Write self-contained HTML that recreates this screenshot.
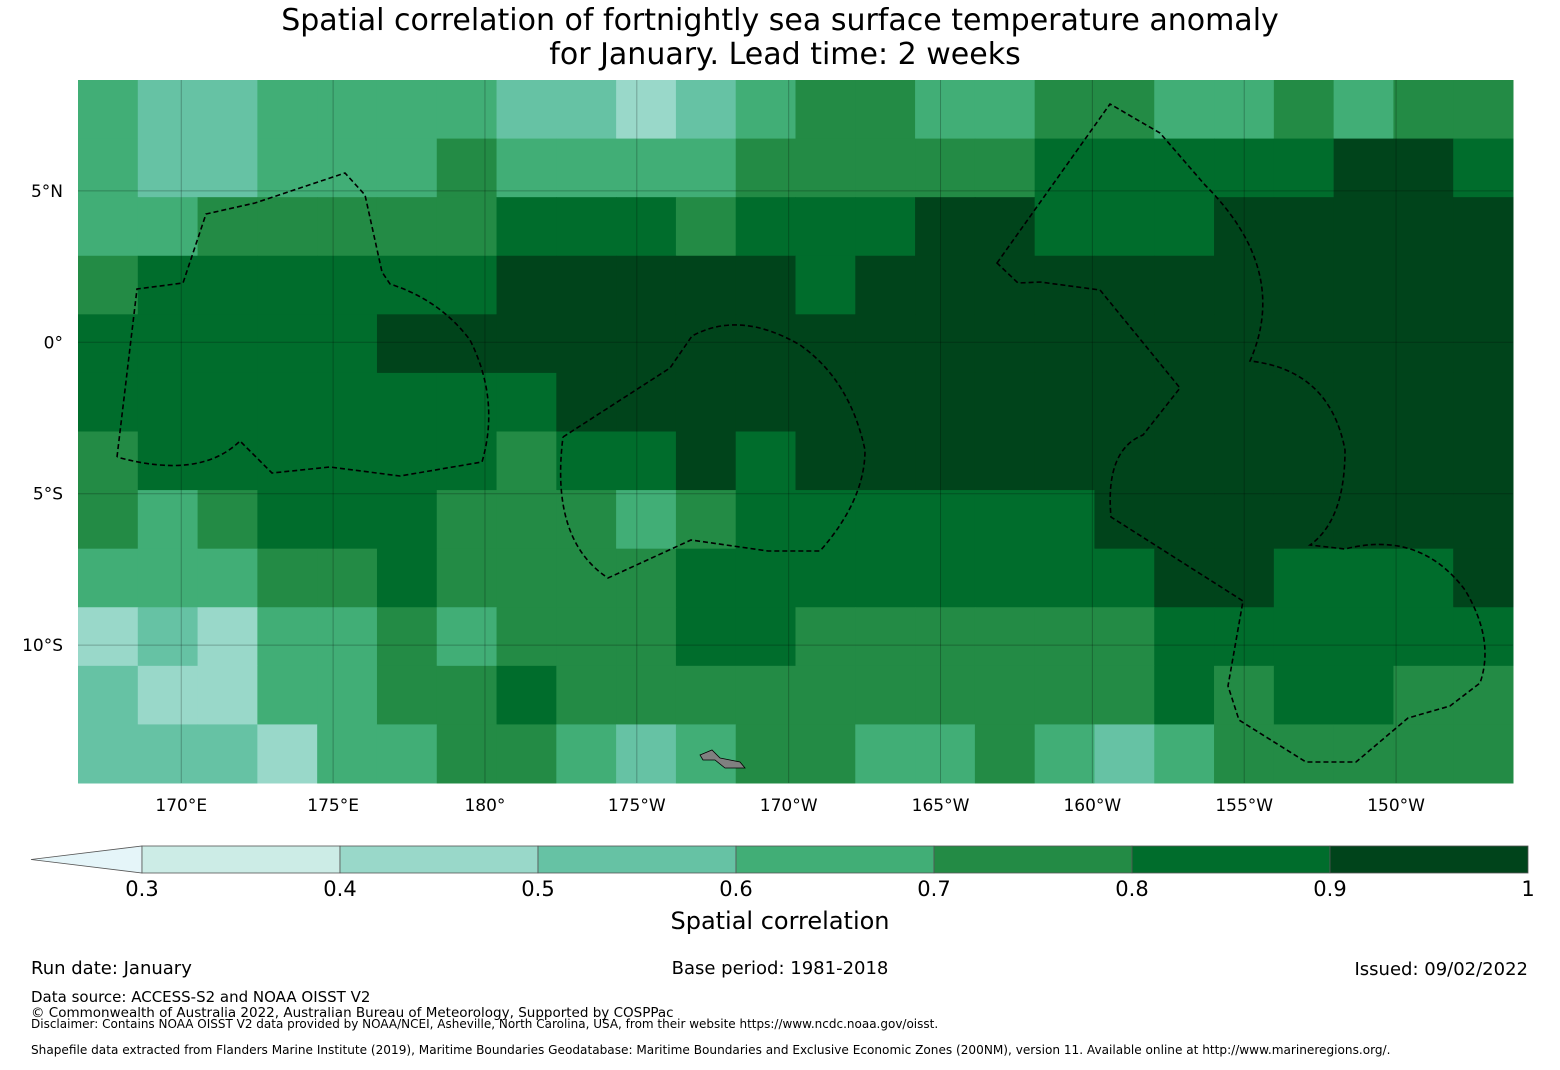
<!DOCTYPE html>
<html><head><meta charset="utf-8">
<style>
body{margin:0;background:#fff;width:1560px;height:1065px;overflow:hidden;font-family:"Liberation Sans","DejaVu Sans",sans-serif;}
svg text{font-family:"DejaVu Sans","Liberation Sans",sans-serif;}
</style></head>
<body>
<svg id="chart" width="1560" height="1065" viewBox="0 0 1560 1065">
<text x="780" y="30" text-anchor="middle" font-size="30" fill="#000">Spatial correlation of fortnightly sea surface temperature anomaly</text>
<text x="785" y="64" text-anchor="middle" font-size="30" fill="#000">for January. Lead time: 2 weeks</text>
<g id="map"></g>
<g id="cbar"></g>
<text x="780" y="929" text-anchor="middle" font-size="24">Spatial correlation</text>
<text x="31" y="974" font-size="18">Run date: January</text>
<text x="780" y="974" text-anchor="middle" font-size="18">Base period: 1981-2018</text>
<text x="1528" y="975" text-anchor="end" font-size="18">Issued: 09/02/2022</text>
<text x="31" y="1002" font-size="15">Data source: ACCESS-S2 and NOAA OISST V2</text>
<text x="31" y="1017" font-size="13.5">© Commonwealth of Australia 2022, Australian Bureau of Meteorology, Supported by COSPPac</text>
<text x="31" y="1028" font-size="12">Disclaimer: Contains NOAA OISST V2 data provided by NOAA/NCEI, Asheville, North Carolina, USA, from their website https://www.ncdc.noaa.gov/oisst.</text>
<text x="31" y="1054" font-size="12.1">Shapefile data extracted from Flanders Marine Institute (2019), Maritime Boundaries Geodatabase: Maritime Boundaries and Exclusive Economic Zones (200NM), version 11. Available online at http://www.marineregions.org/.</text>
</svg>
<script>
// grid: rows north->south, cols west->east; digit = correlation level (3 => 0.3-0.4 ... 9 => 0.9-1.0)
const gridRows = [
"655666655456776677667677",
"655666766667777788888998",
"667777788878889988899999",
"788888899999899999999999",
"888889999999999999999999",
"888888889999999999999999",
"788888878898999999999999",
"767888777678888889999999",
"666778777788888888998889",
"454667677788777777888888",
"544667787777777777878877",
"555466776567766765677777"
];
const levels = [0.3,0.4,0.5,0.6,0.7,0.8,0.9,1.0];
const levelColors = ["#ccece6","#99d8c9","#66c2a4","#41ae76","#238b45","#006d2c","#00441b"];
const lonTicks = [170,175,180,185,190,195,200,205,210];
const lonTickLabels = ["170°E","175°E","180°","175°W","170°W","165°W","160°W","155°W","150°W"];
const latTicks = [5,0,-5,-10];
const latTickLabels = ["5°N","0°","5°S","10°S"];
const cbarTickLabels = ["0.3","0.4","0.5","0.6","0.7","0.8","0.9","1"];
const lonMin=166.6, lonMax=213.85, latMax=8.66, latMin=-14.55;
const X0=78,X1=1513,Y0=80,Y1=783;
const NS="http://www.w3.org/2000/svg";
const xS=lon=>X0+(lon-lonMin)/(lonMax-lonMin)*(X1-X0);
const yS=lat=>Y0+(latMax-lat)/(latMax-latMin)*(Y1-Y0);
function mk(tag,attrs,parent){const e=document.createElementNS(NS,tag);for(const k in attrs)e.setAttribute(k,attrs[k]);parent.appendChild(e);return e;}
const map=document.getElementById('map');
const nR=gridRows.length,nC=gridRows[0].length;
const dLon=(lonMax-lonMin)/nC,dLat=(latMax-latMin)/nR;
gridRows.forEach((row,r)=>{
  for(let c=0;c<nC;c++){
    const v=+row[c];
    const x=xS(lonMin+c*dLon),y=yS(latMax-r*dLat);
    const rc=mk('rect',{x:x,y:y,width:xS(lonMin+(c+1)*dLon)-x+0.5,height:yS(latMax-(r+1)*dLat)-y+0.5,fill:levelColors[v-3]},map);
    
    
  }
});
lonTicks.forEach((lon,i)=>{
  const x=xS(lon);
  const l=mk('line',{x1:x,x2:x,y1:Y0,y2:Y1,stroke:'#000','stroke-opacity':0.25,'stroke-width':1},map);
  
  
  const t=mk('text',{x:x,y:811,'text-anchor':'middle','font-size':17},map);
  t.textContent=lonTickLabels[i];
  
  
});
latTicks.forEach((lat,i)=>{
  const y=yS(lat);
  const l=mk('line',{x1:X0,x2:X1,y1:y,y2:y,stroke:'#000','stroke-opacity':0.25,'stroke-width':1},map);
  
  
  const t=mk('text',{x:63,y:y+6,'text-anchor':'end','font-size':17},map);
  t.textContent=latTickLabels[i];
  
  
});
const eez=[
"M117,457 L137,289 L183,283 L206,214 L255,203 L345,173 L365,195 L382,272 L390,284 Q440,300 470,340 Q500,400 482,462 L400,476 L330,467 L272,473 L240,441 Q200,480 117,457",
"M563,437 L670,368 L692,336 Q740,310 800,345 Q850,380 865,450 Q865,500 820,551 L768,551 L691,540 L608,578 Q550,540 563,437",
"M997,263 L1110,104 L1160,133 L1205,185 Q1290,270 1250,361 Q1330,370 1345,450 Q1345,520 1310,545 L1345,549 Q1420,530 1465,590 Q1495,640 1480,683 L1450,706 L1408,718 L1356,762 L1306,762 L1239,720 L1228,686 L1243,601 L1210,580 L1111,517 Q1105,450 1143,435 L1180,388 L1100,290 L1040,282 L1018,283 Z"
];
eez.forEach(d=>{
  const p=mk('path',{d:d,fill:'none',stroke:'#000','stroke-width':1.6,'stroke-dasharray':'5,3'},map);
  
  
});
const isl=mk('path',{d:"M700,755 L712,750 L720,758 L740,762 L745,768 L725,768 L715,760 L703,760 Z",fill:'#808080',stroke:'#000','stroke-width':0.8},map);


const cb=document.getElementById('cbar');
const cbX0=142,cbX1=1528,cbY=846,cbH=27;
const cx=v=>cbX0+(v-0.3)/(1.0-0.3)*(cbX1-cbX0);
const tri=mk('polygon',{points:`31,859.5 ${cbX0},${cbY} ${cbX0},${cbY+cbH}`,fill:'#e5f5f9',stroke:'#555','stroke-width':0.8},cb);


for(let i=0;i<levelColors.length;i++){
  const r=mk('rect',{x:cx(levels[i]),y:cbY,width:cx(levels[i+1])-cx(levels[i]),height:cbH,fill:levelColors[i],stroke:'#555','stroke-width':0.8},cb);
  
  
}
levels.forEach((v,i)=>{
  const t=mk('text',{x:cx(v),y:896,'text-anchor':'middle','font-size':21},cb);
  t.textContent=cbarTickLabels[i];
  
  
});
</script>
</body></html>
